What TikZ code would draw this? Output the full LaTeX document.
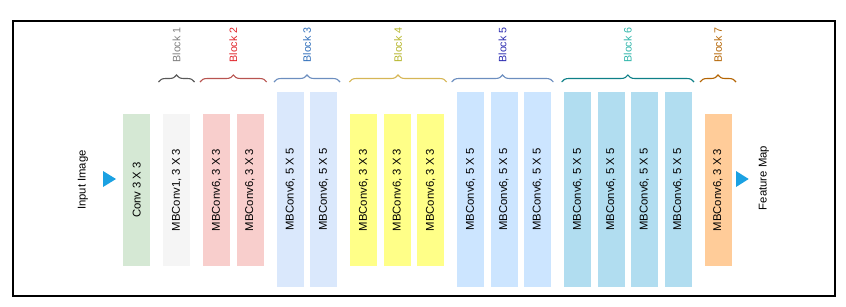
\documentclass[tikz,border=0pt]{standalone}
\usepackage{fontspec}
\setmainfont{Liberation Sans}
\usepackage{tikz}
\usetikzlibrary{decorations.pathreplacing}
\definecolor{effgreen}{HTML}{D5E8D4}
\definecolor{effgray}{HTML}{F5F5F5}
\definecolor{effred}{HTML}{F8CECC}
\definecolor{effblue}{HTML}{DAE8FC}
\definecolor{effyellow}{HTML}{FFFF88}
\definecolor{effsky}{HTML}{CCE5FF}
\definecolor{effcyan}{HTML}{B1DDF0}
\definecolor{efforange}{HTML}{FFCC99}
\definecolor{effarrow}{HTML}{1BA1E2}
% brace / label colours
\definecolor{grayline}{HTML}{595959}\definecolor{graytext}{HTML}{7F7F7F}
\definecolor{redline}{HTML}{B85450}\definecolor{redtext}{HTML}{E0252B}
\definecolor{blueline}{HTML}{6C8EBF}\definecolor{bluetext}{HTML}{2F6EBA}
\definecolor{yellowline}{HTML}{D6B656}\definecolor{yellowtext}{HTML}{B5B52A}
\definecolor{navytext}{HTML}{2B2BB0}
\definecolor{tealline}{HTML}{0E8088}\definecolor{tealtext}{HTML}{2EB5AA}
\definecolor{brownline}{HTML}{B46504}

\begin{document}
\begin{tikzpicture}[x=1pt,y=-1pt,font=\fontsize{11.3}{13}\selectfont,
    layer/.style={minimum height=27pt,inner sep=0pt,rotate=90},
    tall/.style={layer,minimum width=195pt},
    short/.style={layer,minimum width=152pt},
    grp/.style={decorate,decoration={brace,amplitude=7pt},line width=1.1pt},
    grplabel/.style={rotate=90,anchor=west,font=\fontsize{10.7}{12}\selectfont}]
    \useasboundingbox (0,0) rectangle (846,306);
    \draw[line width=1.2pt] (13,21) rectangle (835,296);
    % input / output
    \node[rotate=90] (input) at (83,180) {Input Image};
    \fill[effarrow] (103,171) -- (116,179) -- (103,187) -- cycle;
    \fill[effarrow] (736,171) -- (748.7,179) -- (736,187) -- cycle;
    \node[rotate=90] (fmap) at (764,178) {Feature Map};
    % layers
    \node[short,fill=effgreen] (stem) at (136.7,190) {Conv 3 X 3};
    \node[short,fill=effgray] (b1) at (176.7,190) {MBConv1, 3 X 3};
    \foreach \x [count=\i] in {216.7,250}{\node[short,fill=effred] (b2-\i) at (\x,190) {MBConv6, 3 X 3};}
    \foreach \x [count=\i] in {290.3,323.7}{\node[tall,fill=effblue] (b3-\i) at (\x,189.5) {MBConv6, 5 X 5};}
    \foreach \x [count=\i] in {363.7,397.3,430.7}{\node[short,fill=effyellow] (b4-\i) at (\x,190) {MBConv6, 3 X 3};}
    \foreach \x [count=\i] in {470.7,504,537.3}{\node[tall,fill=effsky] (b5-\i) at (\x,189.5) {MBConv6, 5 X 5};}
    \foreach \x [count=\i] in {577.7,611,644.3,678}{\node[tall,fill=effcyan] (b6-\i) at (\x,189.5) {MBConv6, 5 X 5};}
    \node[short,fill=efforange] (b7) at (718,190) {MBConv6, 3 X 3};
    % braces
    \draw[grp,grayline] (158.5,82) -- (194.5,82);   \node[grplabel,graytext] (l1) at (176.5,66) {Block 1};
    \draw[grp,redline] (200,82) -- (266.7,82);      \node[grplabel,redtext] (l2) at (233.3,66) {Block 2};
    \draw[grp,blueline] (274,82) -- (340,82);       \node[grplabel,bluetext] (l3) at (307,66) {Block 3};
    \draw[grp,yellowline] (349.3,82) -- (446.7,82); \node[grplabel,yellowtext] (l4) at (398,66) {Block 4};
    \draw[grp,blueline] (451.7,82) -- (553.3,82);   \node[grplabel,navytext] (l5) at (502.5,66) {Block 5};
    \draw[grp,tealline] (561.7,82) -- (694,82);     \node[grplabel,tealtext] (l6) at (627.8,66) {Block 6};
    \draw[grp,brownline] (700,82) -- (736,82);      \node[grplabel,brownline] (l7) at (718,66) {Block 7};
\end{tikzpicture}
\end{document}
